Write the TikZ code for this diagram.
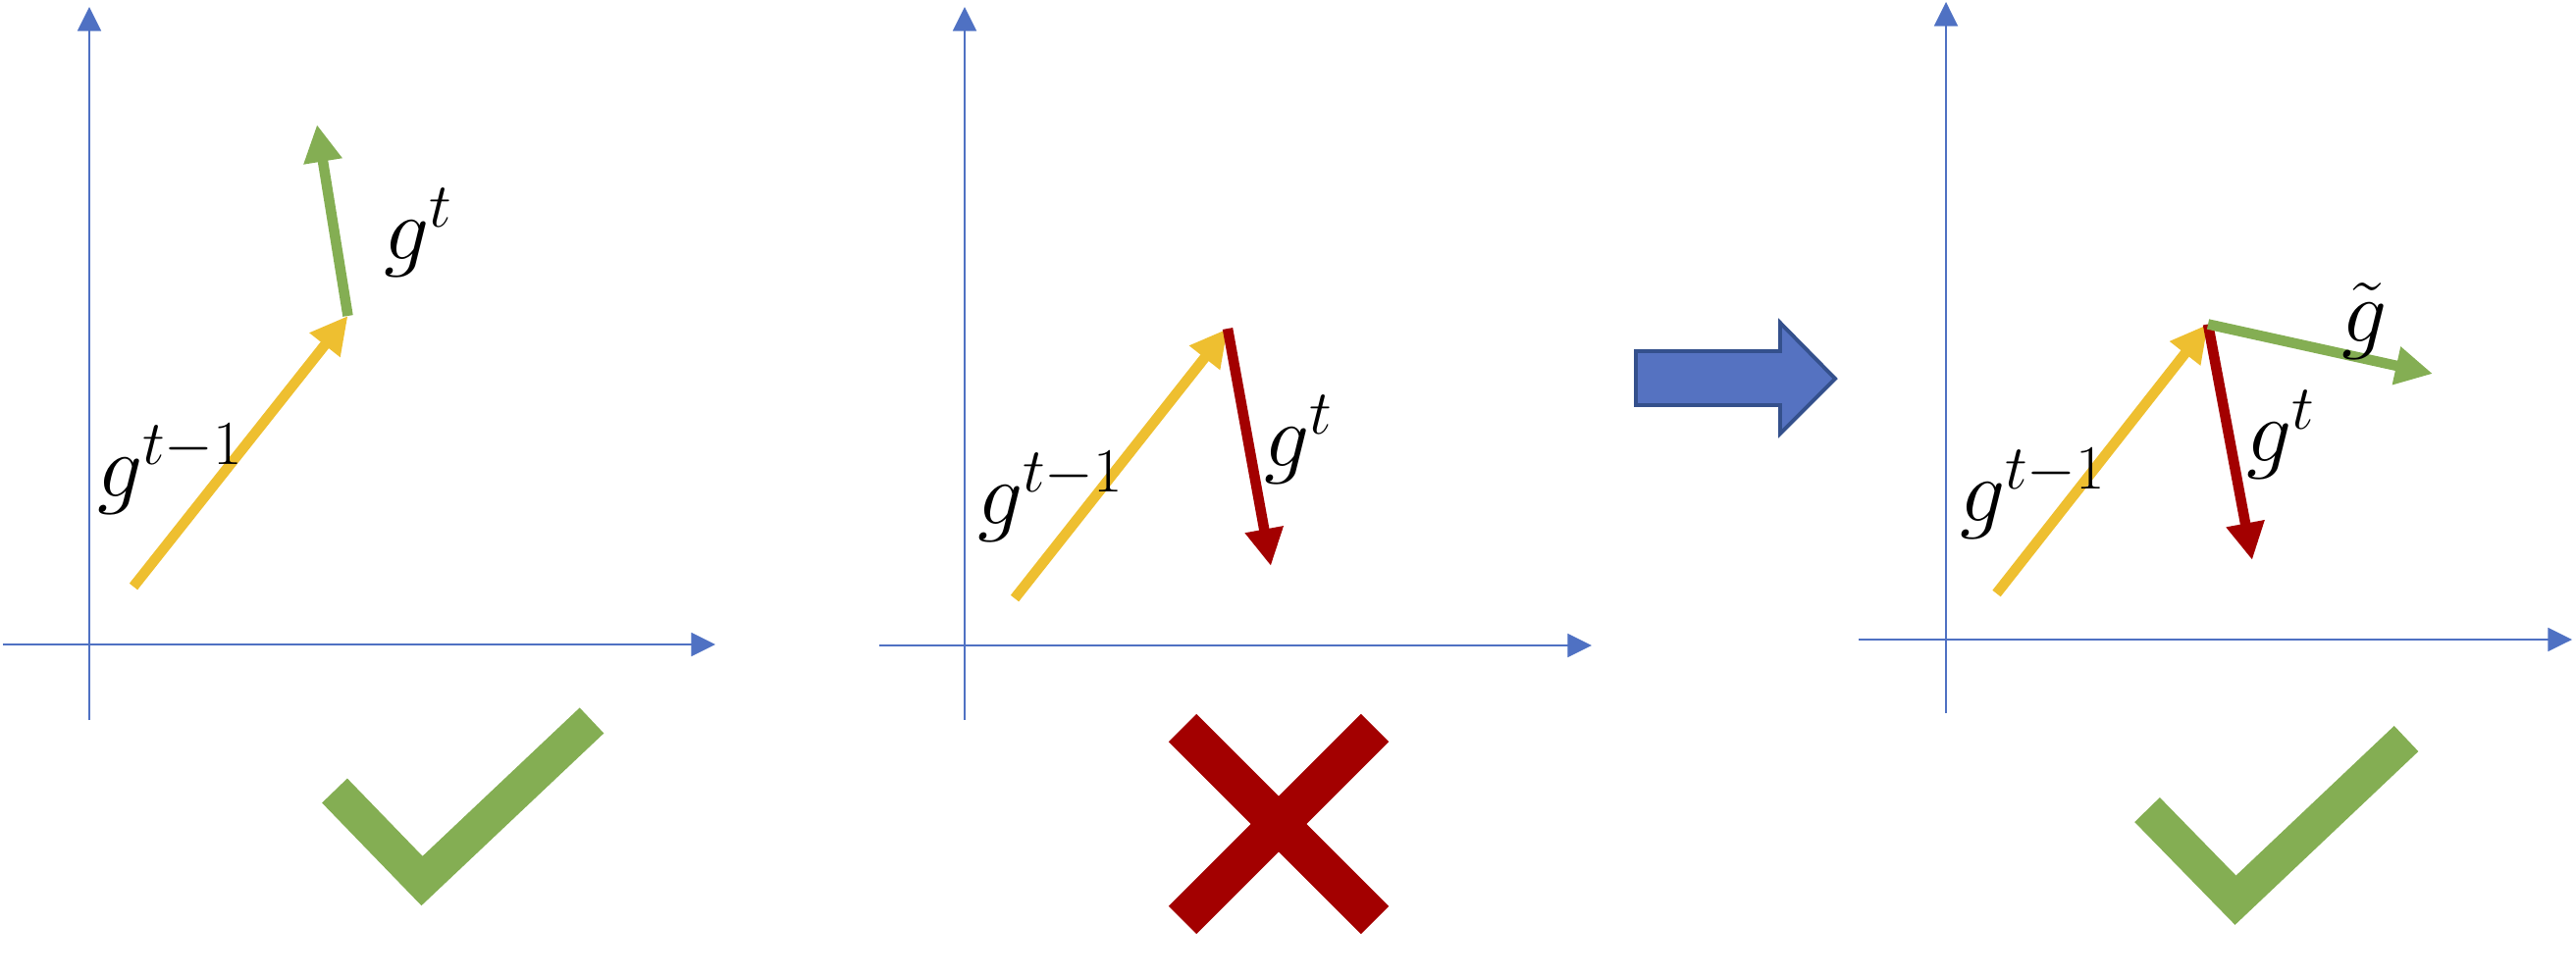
\RequirePackage{fix-cm}
\documentclass[tikz,border=0pt]{standalone}
\usepackage{amsmath}
\usepackage{xcolor}
\usetikzlibrary{arrows.meta}
\definecolor{axis-blue}{HTML}{4F71C3}
\definecolor{arrow-blue}{HTML}{5572C1}
\definecolor{arrow-edge}{HTML}{34508C}
\definecolor{gold}{HTML}{EEBF30}
\definecolor{leaf}{HTML}{84AE53}
\definecolor{crimson}{HTML}{A30000}

\begin{document}
\begin{tikzpicture}[every node/.style={font=\fontsize{26}{30}\selectfont, inner sep=0pt},
    axis/.style={line width=0.6pt, color=axis-blue, -{Triangle[length=7pt,width=6.8pt]}},
    vec/.style={line width=3pt, -{Triangle[length=10.8pt,width=10.6pt]}},
    tickmark/.style={line width=10.2pt, color=leaf},
    crossmark/.style={line width=11.4pt, color=crimson}]
    \useasboundingbox (0,0) rectangle (26.25,9.95);

    % first panel
    \coordinate (o1x) at (0.03,3.38);
    \coordinate (e1x) at (7.29,3.38);
    \coordinate (o1y) at (0.91,2.61);
    \coordinate (e1y) at (0.91,9.88);
    \draw[axis] (o1x) -- (e1x);
    \draw[axis] (o1y) -- (e1y);
    \coordinate (a1) at (1.36,3.97);
    \coordinate (b1) at (3.545,6.73);
    \coordinate (c1) at (3.23,8.68);
    \draw[vec, color=gold] (a1) -- (b1);
    \draw[vec, color=leaf] (b1) -- (c1);
    \node (gt1) at (4.27,7.58) {$g^t$};
    \node (gprev1) at (1.74,5.17) {$g^{t-1}$};
    \draw[tickmark] (3.41,1.89) -- (4.30,0.97) -- (6.03,2.605);

    % second panel
    \coordinate (o2x) at (8.96,3.37);
    \coordinate (e2x) at (16.22,3.37);
    \coordinate (o2y) at (9.83,2.61);
    \coordinate (e2y) at (9.83,9.88);
    \draw[axis] (o2x) -- (e2x);
    \draw[axis] (o2y) -- (e2y);
    \coordinate (a2) at (10.34,3.85);
    \coordinate (b2) at (12.51,6.60);
    \coordinate (c2) at (12.95,4.18);
    \draw[vec, color=gold] (a2) -- (b2);
    \draw[vec, color=crimson] (b2) -- (c2);
    \node (gt2) at (13.24,5.47) {$g^t$};
    \node (gprev2) at (10.71,4.89) {$g^{t-1}$};
    \draw[crossmark] (12.05,2.53) -- (14.01,0.57);
    \draw[crossmark] (14.01,2.53) -- (12.05,0.57);

    % block arrow
    \filldraw[fill=arrow-blue, draw=arrow-edge, line width=1.1pt]
      (16.67,6.37) -- (18.14,6.37) -- (18.14,6.66) -- (18.70,6.09)
      -- (18.14,5.53) -- (18.14,5.82) -- (16.67,5.82) -- cycle;

    % third panel
    \coordinate (o3x) at (18.94,3.43);
    \coordinate (e3x) at (26.21,3.43);
    \coordinate (o3y) at (19.83,2.68);
    \coordinate (e3y) at (19.83,9.93);
    \draw[axis] (o3x) -- (e3x);
    \draw[axis] (o3y) -- (e3y);
    \coordinate (a3) at (20.345,3.90);
    \coordinate (b3) at (22.50,6.645);
    \coordinate (c3) at (22.95,4.24);
    \coordinate (d3) at (24.79,6.14);
    \draw[vec, color=gold] (a3) -- (b3);
    \draw[vec, color=crimson] (b3) -- (c3);
    \draw[vec, color=leaf] (b3) -- (d3);
    \node (gt3) at (23.25,5.52) {$g^t$};
    \node (gprev3) at (20.72,4.92) {$g^{t-1}$};
    \node (gtil3) at (24.10,6.68) {$\tilde{g}$};
    \draw[tickmark] (21.88,1.695) -- (22.78,0.773) -- (24.52,2.42);
  \end{tikzpicture}
\end{document}
